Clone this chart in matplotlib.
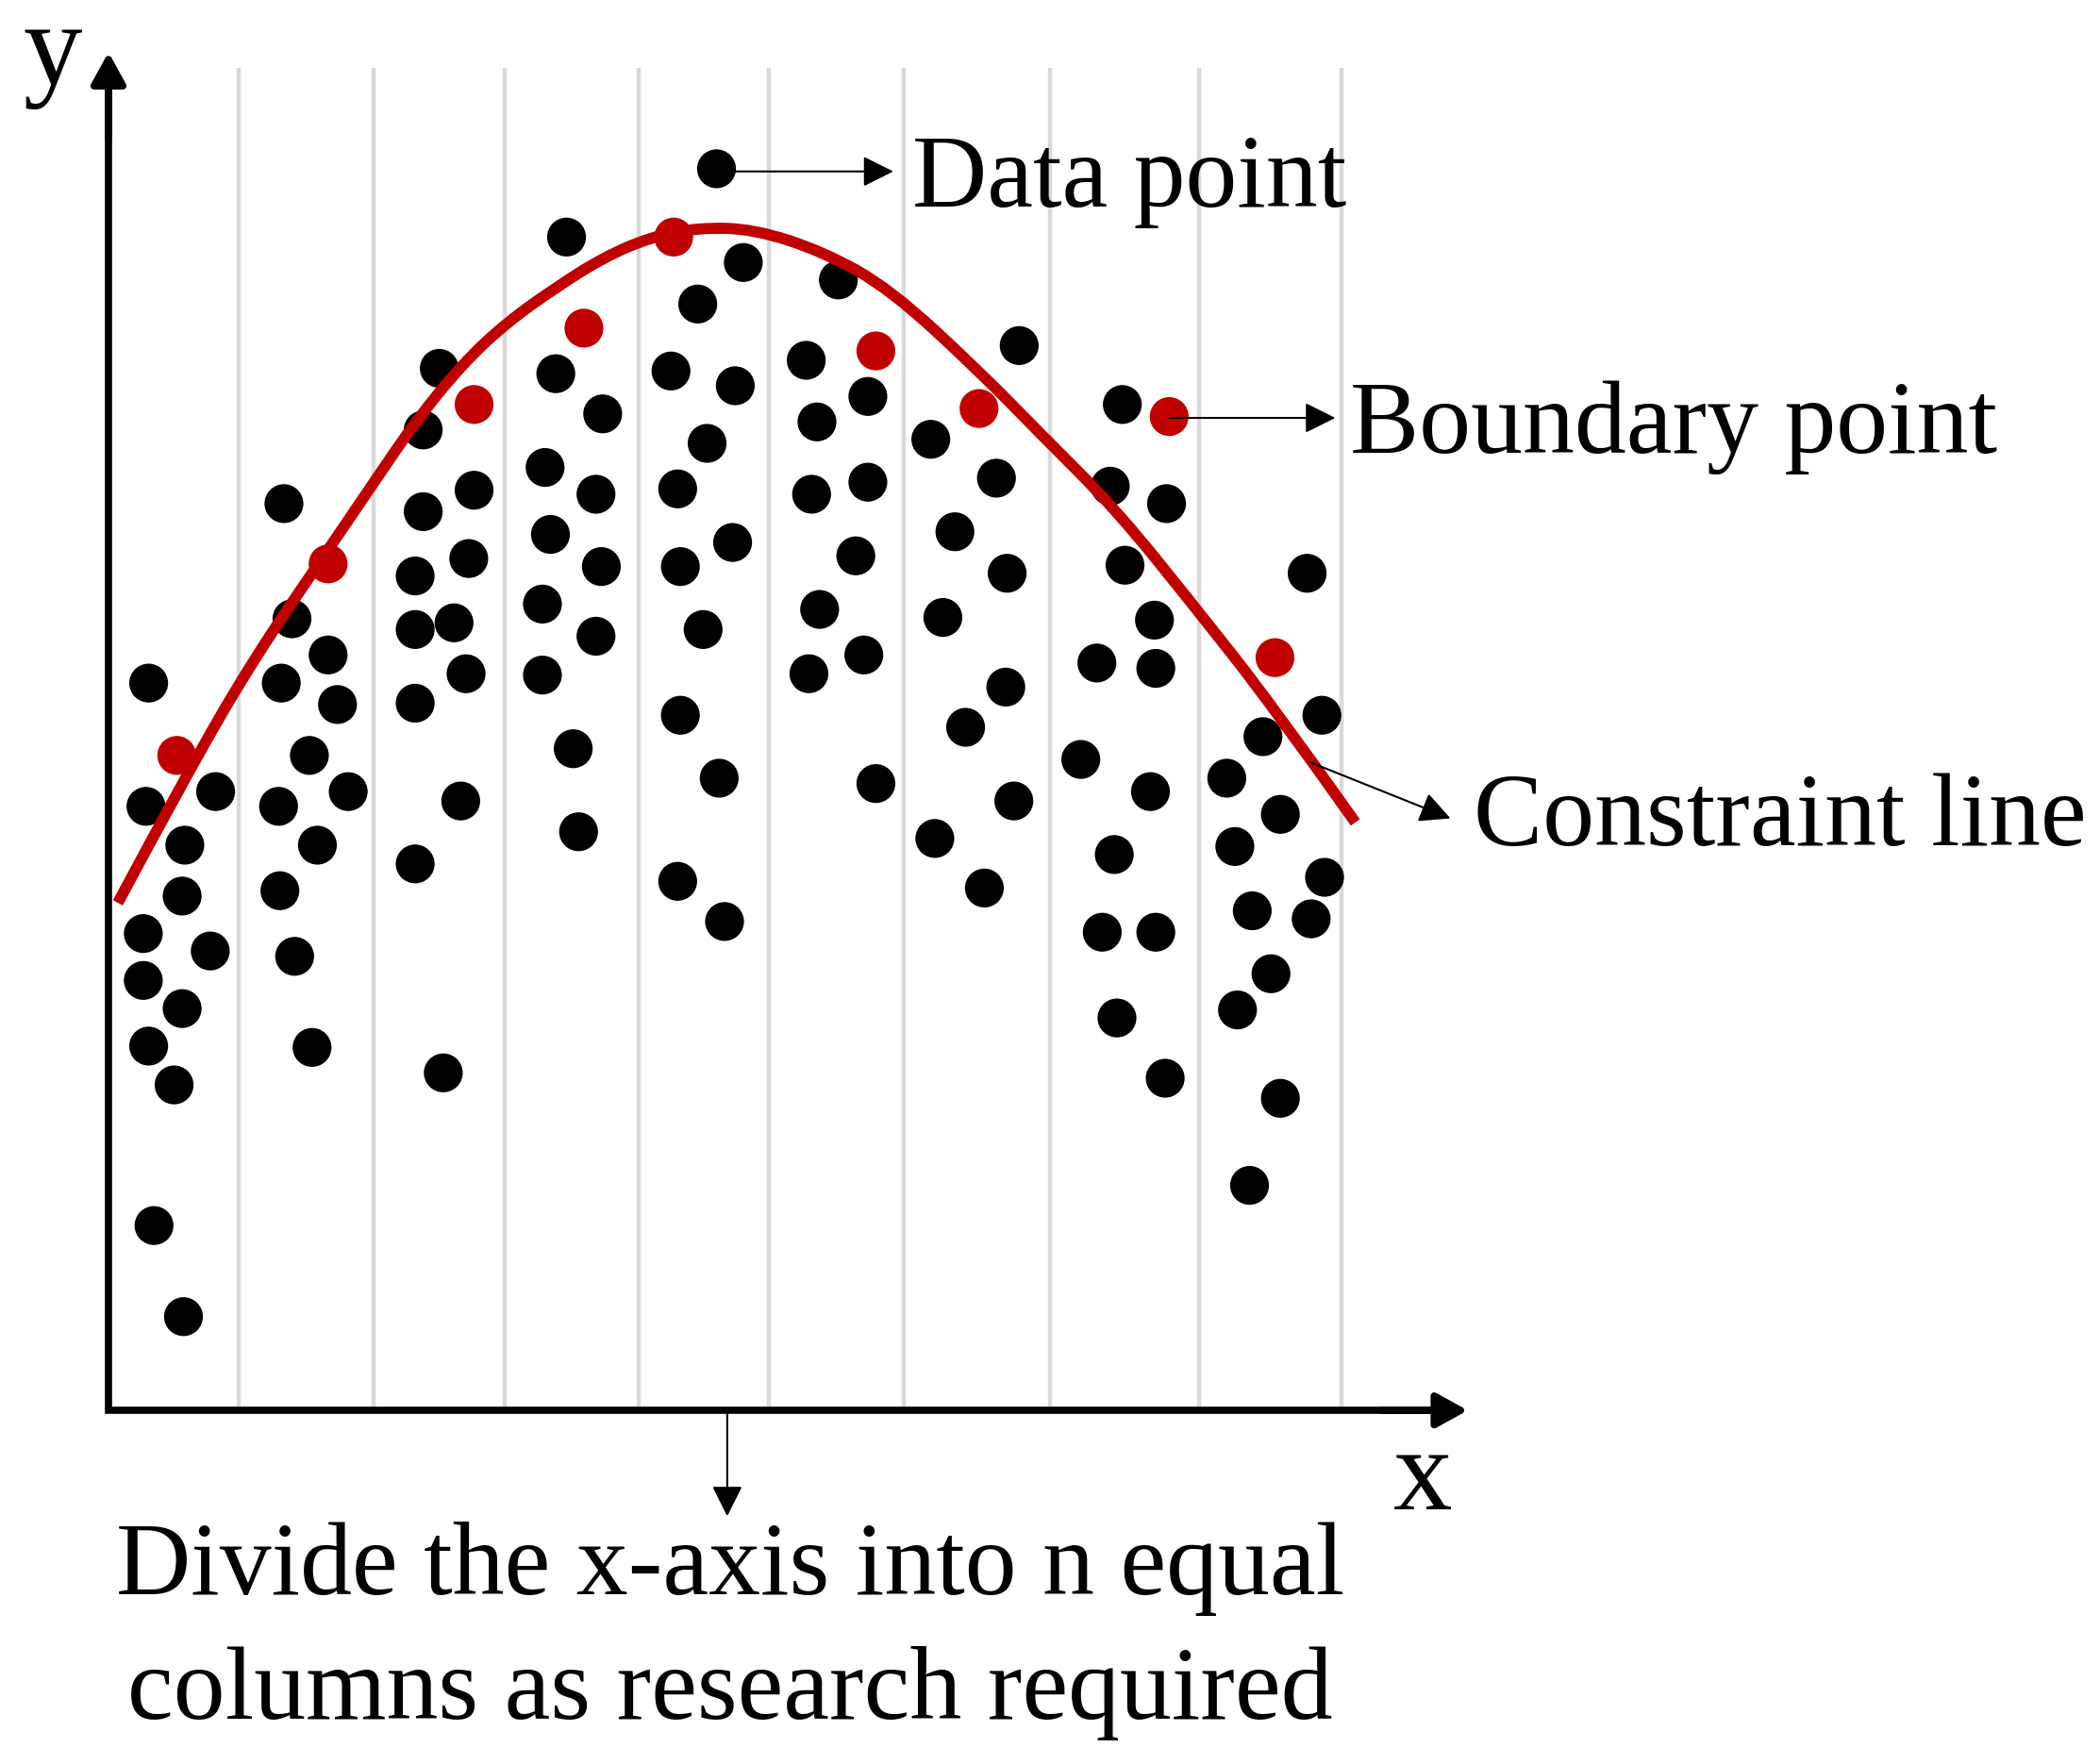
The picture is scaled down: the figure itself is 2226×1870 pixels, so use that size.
import matplotlib
matplotlib.use("Agg")
import matplotlib.pyplot as plt
from matplotlib.path import Path
from matplotlib.patches import PathPatch
import numpy as np

plt.rcParams['font.family'] = ['Liberation Serif', 'DejaVu Serif']

# ---- data (chart units, origin at axes corner) ----
data_x = [30, 28, 80, 57, 55, 26, 76, 26, 55, 30, 49, 34, 56,
          131, 137, 129, 164, 171, 150, 179, 127, 156, 128, 139, 152,
          247, 235, 235, 273, 229, 269, 229, 258, 267, 229, 263, 229, 250,
          342, 334, 369, 326, 364, 330, 368, 324, 364, 324, 347, 351,
          454, 474, 440, 420, 468, 447, 425, 466, 427, 444, 427, 456, 425, 460,
          545, 521, 529, 567, 525, 567, 558, 531, 564, 523, 573,
          680, 614, 663, 632, 671, 623, 670, 640, 676, 617, 654,
          757, 748, 790, 759, 781, 738, 782, 726, 778, 751, 742, 782, 753, 789,
          895, 906, 862, 835, 875, 841, 908, 854, 898, 868, 843, 875, 852]
data_y = [543, 451, 462, 422, 384, 356, 343, 321, 300, 272, 243, 138, 70,
          677, 591, 543, 564, 527, 489, 462, 451, 422, 388, 339, 271,
          778, 732, 671, 687, 623, 636, 583, 588, 550, 528, 455, 408, 252,
          876, 774, 744, 704, 684, 654, 630, 602, 578, 549, 494, 432,
          927, 857, 826, 776, 765, 722, 688, 648, 630, 583, 519, 472, 395, 365,
          844, 784, 738, 757, 684, 693, 638, 598, 564, 550, 468,
          795, 725, 696, 656, 625, 592, 540, 510, 455, 427, 390,
          751, 690, 677, 631, 590, 558, 554, 486, 462, 415, 357, 357, 293, 248,
          625, 519, 503, 472, 445, 421, 398, 373, 367, 326, 299, 233, 168]

boundary_x = [51, 164, 273, 355, 422, 573, 650, 792, 871]
boundary_y = [489, 632, 751, 808, 876, 791, 748, 742, 562]

curve_x = [7, 60, 109, 165, 201, 229, 264, 297, 335, 370, 405, 440, 482,
           534, 584, 652, 694, 752, 811, 870, 931]
curve_y = [379, 478, 562, 644, 697, 738, 781, 812, 839, 861, 876, 883, 882,
           865, 837, 774, 731, 673, 600, 525, 439]

column_edges = [97, 198, 296, 396, 493, 594, 703, 814, 921]

labels = {
    "data": "Data point",
    "boundary": "Boundary point",
    "constraint": "Constraint line",
    "bottom": "Divide the x-axis into n equal\ncolumns as research required",
}

# ---- figure ----
fig = plt.figure(figsize=(22.26, 18.70), dpi=100)
ax = fig.add_axes([0, 0, 1, 1])
ax.set_xlim(-81, 1568 - 81)
ax.set_ylim(-(1317 - 1053), 1053)
ax.axis('off')

# column divider lines
for cx in column_edges:
    ax.plot([cx, cx], [0, 1002], color='#d9d9d9', lw=3.2, zorder=1,
            solid_capstyle='butt')

# axes with arrows
ax.plot([0, 0, 990], [990, 0, 0], color='black', lw=5.5, zorder=5,
        solid_joinstyle='miter', solid_capstyle='butt')
axis_style = '-|>,head_length=20,head_width=11'
ax.annotate('', xy=(0, 1014), xytext=(0, 950),
            arrowprops=dict(arrowstyle=axis_style, lw=5.5, color='black',
                            shrinkA=0, shrinkB=0, mutation_scale=1), zorder=5)
ax.annotate('', xy=(1015, 0), xytext=(950, 0),
            arrowprops=dict(arrowstyle=axis_style, lw=5.5, color='black',
                            shrinkA=0, shrinkB=0, mutation_scale=1), zorder=5)

# points
ax.scatter(data_x, data_y, s=880, color='black', edgecolors='none', zorder=3)
ax.scatter(boundary_x, boundary_y, s=880, color='#c00000', edgecolors='none', zorder=4)

# constraint line: smooth quadratic path through the read control points
pts = list(zip(curve_x, curve_y))
verts = [pts[0]]
codes = [Path.MOVETO]
for i in range(1, len(pts) - 1):
    if i < len(pts) - 2:
        end = ((pts[i][0] + pts[i + 1][0]) / 2, (pts[i][1] + pts[i + 1][1]) / 2)
    else:
        end = pts[i + 1]
    verts += [pts[i], end]
    codes += [Path.CURVE3, Path.CURVE3]
ax.add_patch(PathPatch(Path(verts, codes), facecolor='none', edgecolor='#c00000',
                       lw=8.5, zorder=6, capstyle='butt'))

# annotations
small_style = '-|>,head_length=20,head_width=10'
fs = 79
ax.annotate('', xy=(586, 925), xytext=(data_x[50], 925),
            arrowprops=dict(arrowstyle=small_style, lw=1.5, color='black',
                            shrinkA=0, shrinkB=0, mutation_scale=1), zorder=7)
ax.text(600, 899, labels["data"], fontsize=fs, ha='left', va='baseline')

ax.annotate('', xy=(916, 741), xytext=(boundary_x[7], 741),
            arrowprops=dict(arrowstyle=small_style, lw=1.5, color='black',
                            shrinkA=0, shrinkB=0, mutation_scale=1), zorder=7)
ax.text(927, 715, labels["boundary"], fontsize=fs, ha='left', va='baseline')

ax.annotate('', xy=(1002, 442), xytext=(897, 484),
            arrowprops=dict(arrowstyle=small_style, lw=1.5, color='black',
                            shrinkA=0, shrinkB=0, mutation_scale=1), zorder=7)
ax.text(1019, 422, labels["constraint"], fontsize=fs, ha='left', va='baseline')

ax.annotate('', xy=(462, -79), xytext=(462, 0),
            arrowprops=dict(arrowstyle=small_style, lw=1.5, color='black',
                            shrinkA=0, shrinkB=0, mutation_scale=1), zorder=7)
bl = labels["bottom"].split("\n")
ax.text(464, -137, bl[0], fontsize=fs, ha='center', va='baseline')
ax.text(464, -230, bl[1], fontsize=fs, ha='center', va='baseline')

# axis letters
ax.text(-64, 990, 'y', fontsize=90, ha='left', va='baseline')
ax.text(981, -74, 'x', fontsize=90, ha='center', va='baseline')

fig.savefig('out.png', dpi=100, facecolor='white')
